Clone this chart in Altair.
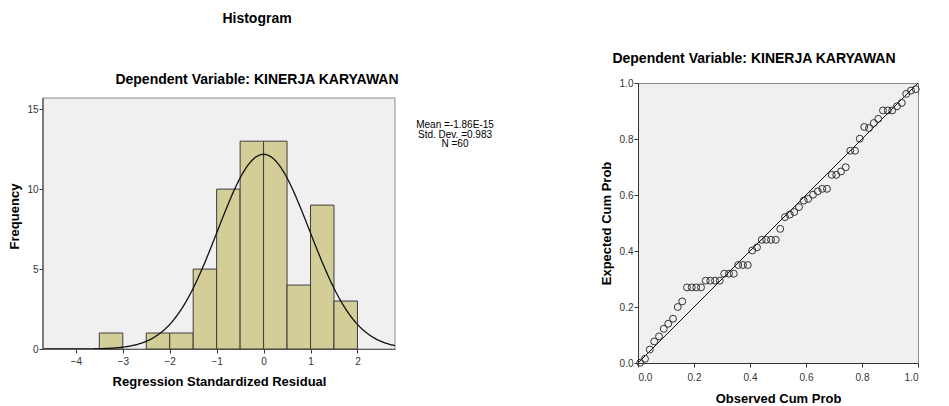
import altair as alt
import pandas as pd

FONT = "Liberation Sans"

# Histogram of regression standardized residuals
bin_start = [-3.5, -2.5, -2.0, -1.5, -1.0, -0.5, 0.0, 0.5, 1.0, 1.5]
bin_end = [-3.0, -2.0, -1.5, -1.0, -0.5, 0.0, 0.5, 1.0, 1.5, 2.0]
freq = [1, 1, 1, 5, 10, 13, 13, 4, 9, 3]
res_mean = -1.86e-15
res_sd = 0.983
res_n = 60
bin_width = 0.5
hist_x_range = [-4.7, 2.8]
hist_y_range = [0, 15.7]
hist_x_ticks = [-4, -3, -2, -1, 0, 1, 2]
hist_y_ticks = [0, 5, 10, 15]
stats_lines = "Mean =-1.86E-15\nStd. Dev. =0.983\nN =60"

# Normal P-P plot
obs_cum = [0.008, 0.025, 0.042, 0.058, 0.075, 0.092, 0.108, 0.125, 0.142, 0.158,
           0.175, 0.192, 0.208, 0.225, 0.242, 0.258, 0.275, 0.292, 0.308, 0.325,
           0.342, 0.358, 0.375, 0.392, 0.408, 0.425, 0.442, 0.458, 0.475, 0.492,
           0.508, 0.525, 0.542, 0.558, 0.575, 0.592, 0.608, 0.625, 0.642, 0.658,
           0.675, 0.692, 0.708, 0.725, 0.742, 0.758, 0.775, 0.792, 0.808, 0.825,
           0.842, 0.858, 0.875, 0.892, 0.908, 0.925, 0.942, 0.958, 0.975, 0.992]
exp_cum = [0.001, 0.015, 0.048, 0.077, 0.095, 0.122, 0.140, 0.158, 0.200, 0.220,
           0.270, 0.270, 0.270, 0.270, 0.294, 0.294, 0.294, 0.294, 0.319, 0.319,
           0.319, 0.350, 0.350, 0.350, 0.402, 0.413, 0.440, 0.440, 0.440, 0.440,
           0.479, 0.521, 0.530, 0.539, 0.557, 0.580, 0.586, 0.601, 0.613, 0.622,
           0.622, 0.672, 0.672, 0.684, 0.699, 0.758, 0.758, 0.801, 0.843, 0.839,
           0.857, 0.872, 0.902, 0.902, 0.902, 0.917, 0.929, 0.961, 0.973, 0.978]
diag = [0.0, 1.0]
pp_ticks = [0.0, 0.2, 0.4, 0.6, 0.8, 1.0]
dep_title = "Dependent Variable: KINERJA KARYAWAN"

hist_df = pd.DataFrame({"start": bin_start, "end": bin_end, "count": freq})
frame_df = pd.DataFrame({"x0": [hist_x_range[0]], "x1": [hist_x_range[1]],
                         "y0": [hist_y_range[0]], "y1": [hist_y_range[1]]})
pp_df = pd.DataFrame({"obs": obs_cum, "exp": exp_cum})
diag_df = pd.DataFrame({"p": diag})

axis_common = dict(
    labelFont=FONT, labelFontSize=10, labelColor="#333333",
    titleFont=FONT, titleFontSize=13, titleFontWeight="bold", titleColor="#000000",
    domainColor="#333333", tickColor="#333333", tickSize=4, grid=False,
)

# left view is taller than its frame so that both panels share the row alignment;
# the y-scale top is extended in proportion (frame 251px of a 266px view)
LEFT_H = 266
FRAME_H = 251
xs_h = alt.Scale(domain=hist_x_range, nice=False, zero=False)
ys_h = alt.Scale(domain=[0, hist_y_range[1] * LEFT_H / FRAME_H], nice=False)

frame = alt.Chart(frame_df).mark_rect(
    fill="#f0f0f0", stroke="#8c8c8c", strokeWidth=1
).encode(
    x=alt.X("x0:Q", scale=xs_h,
            axis=alt.Axis(values=hist_x_ticks, title="Regression Standardized Residual",
                          format="d", titlePadding=9, labelPadding=3, **axis_common)),
    x2="x1:Q",
    y=alt.Y("y0:Q", scale=ys_h,
            axis=alt.Axis(values=hist_y_ticks, title="Frequency", titlePadding=5,
                          labelPadding=1, domain=False, **axis_common)),
    y2="y1:Q",
)

left_edge = alt.Chart(frame_df).mark_rule(color="#333333", strokeWidth=1).encode(
    x=alt.X("x0:Q", scale=xs_h),
    y=alt.Y("y0:Q", scale=ys_h),
    y2="y1:Q",
)

bars = alt.Chart(hist_df).mark_rect(
    fill="#d3ce98", stroke="#3c3c3c", strokeWidth=1
).encode(
    x=alt.X("start:Q", scale=xs_h),
    x2="end:Q",
    y=alt.Y("count:Q", scale=ys_h),
    y2=alt.datum(0),
)

curve = alt.Chart(alt.sequence(-4.7, 2.81, 0.02, as_="r")).transform_calculate(
    dens=f"{res_n * bin_width}/({res_sd}*sqrt(2*PI))*exp(-0.5*pow((datum.r-({res_mean}))/{res_sd},2))"
).mark_line(color="#111111", strokeWidth=1.3, clip=True).encode(
    x=alt.X("r:Q", scale=xs_h),
    y=alt.Y("dens:Q", scale=ys_h),
)

stats = alt.Chart(pd.DataFrame({"t": [stats_lines]})).mark_text(
    font=FONT, fontSize=10, lineBreak="\n", lineHeight=9.5, align="center",
    baseline="top", color="#000000"
).encode(x=alt.value(412), y=alt.value(37), text="t:N")

left = alt.layer(frame, bars, curve, left_edge, stats).properties(
    width=352, height=LEFT_H,
    view=alt.ViewBackground(fill="transparent", stroke="transparent"),
    title=alt.TitleParams(
        text="Histogram", subtitle=dep_title,
        font=FONT, fontSize=14, fontWeight="bold", color="#000000",
        subtitleFont=FONT, subtitleFontSize=14, subtitleFontWeight="bold",
        subtitleColor="#000000", subtitlePadding=47, offset=-4, dx=38, anchor="middle",
    ),
)

xs_p = alt.Scale(domain=[0, 1], nice=False)
ys_p = alt.Scale(domain=[0, 1], nice=False)

line = alt.Chart(diag_df).mark_line(color="#111111", strokeWidth=1).encode(
    x=alt.X("p:Q", scale=xs_p),
    y=alt.Y("p:Q", scale=ys_p),
)

pts = alt.Chart(pp_df).mark_point(
    shape="circle", size=48, filled=False, stroke="#333333", strokeWidth=1, opacity=1
).encode(
    x=alt.X("obs:Q", scale=xs_p,
            axis=alt.Axis(values=pp_ticks, format=".1f", title="Observed Cum Prob",
                          titlePadding=10, labelPadding=5, **axis_common)),
    y=alt.Y("exp:Q", scale=ys_p,
            axis=alt.Axis(values=pp_ticks, format=".1f", title="Expected Cum Prob",
                          titlePadding=6, labelPadding=1, **axis_common)),
)

right = alt.layer(line, pts).properties(
    width=280, height=280,
    view=alt.ViewBackground(fill="#f0f0f0", stroke="#8c8c8c"),
    title=alt.TitleParams(
        text=" ", subtitle=dep_title,
        font=FONT, fontSize=14, fontWeight="bold", color="#000000",
        subtitleFont=FONT, subtitleFontSize=14, subtitleFontWeight="bold",
        subtitleColor="#000000", subtitlePadding=16, offset=12, dx=-24, anchor="middle",
    ),
)

chart = alt.hconcat(left, right, spacing=104).properties(
    padding={"left": 0, "top": 3, "right": 2, "bottom": 0},
    background="#ffffff",
).configure_view(strokeWidth=1)

chart.save("out.html", embed_options={"renderer": "svg", "actions": False})
